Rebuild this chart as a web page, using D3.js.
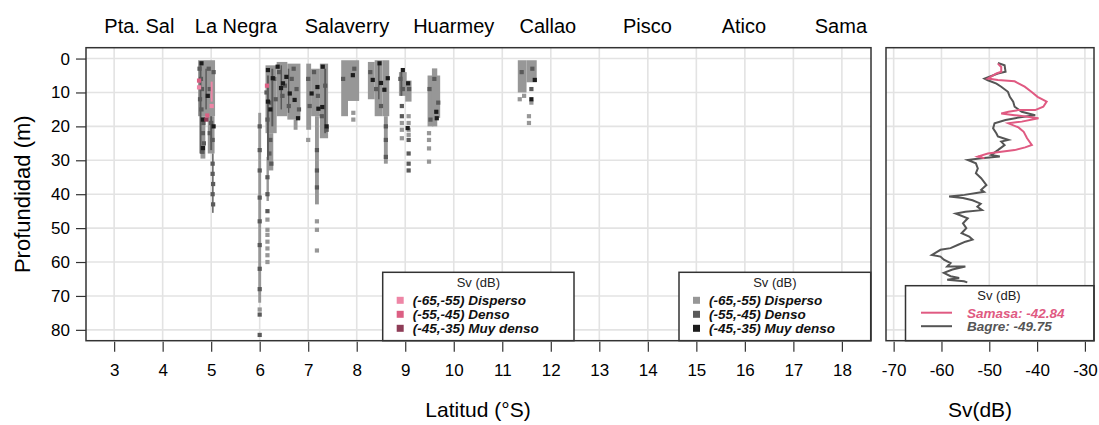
<!DOCTYPE html>
<html>
<head>
<meta charset="utf-8">
<script src="https://cdn.jsdelivr.net/npm/d3@7"></script>
<style>
  body { margin: 0; background: #fff; }
  svg { font-family: "Liberation Sans", Arial, sans-serif; }
</style>
</head>
<body>
<svg id="chart" width="1099" height="425"></svg>
<script>
const latTicks = [3, 4, 5, 6, 7, 8, 9, 10, 11, 12, 13, 14, 15, 16, 17, 18];
const profTicks = [0, 10, 20, 30, 40, 50, 60, 70, 80];
const svTicks = [-70, -60, -50, -40, -30];

const lugares = ['Pta. Sal', 'La Negra', 'Salaverry', 'Huarmey', 'Callao', 'Pisco', 'Atico', 'Sama'];
const latLugares = [3.52, 5.51, 7.8, 10.0, 11.94, 13.99, 15.98, 17.98];

const niveles = ['(-65,-55) Disperso', '(-55,-45) Denso', '(-45,-35) Muy denso'];
const coloresSamasa = ['#ee86a6', '#dc5f83', '#8e3d57'];
const coloresBagre = ['#979797', '#5a5a5a', '#1c1c1c'];

// bancos de bagre: [lat inicio, lat fin, prof inicio, prof fin]
const bancosDisperso = [
  [4.73, 5.08, 0.5, 17], [4.78, 4.88, 17, 29.5], [4.93, 5.07, 17, 28],
  [5.97, 6.03, 16, 72],
  [6.12, 6.35, 2, 22], [6.17, 6.28, 22, 33], [6.35, 6.57, 1, 17], [6.57, 6.84, 1.5, 18], [6.70, 6.78, 18, 21],
  [6.14, 6.19, 29, 42],
  [6.96, 7.06, 1.5, 21], [7.06, 7.24, 3, 17], [7.24, 7.41, 1.5, 23.5], [7.14, 7.22, 17, 43],
  [7.68, 7.82, 0.5, 17], [7.82, 8.05, 0.5, 12.5],
  [8.23, 8.37, 1, 12], [8.37, 8.53, 0.5, 17], [8.53, 8.67, 0.5, 17], [8.56, 8.64, 17, 31],
  [8.87, 9.03, 4, 11], [9.00, 9.13, 6.5, 12.7],
  [9.46, 9.58, 5, 20], [9.55, 9.66, 2.9, 20], [9.62, 9.72, 5, 17.5],
  [11.32, 11.50, 0.5, 10], [11.50, 11.71, 0.5, 7]
];
const bancosDenso = [
  [4.76, 4.80, 2, 28], [4.88, 4.91, 3, 15], [4.98, 5.02, 17, 27], [5.02, 5.05, 28, 45.5],
  [6.15, 6.19, 5, 30], [6.24, 6.28, 3, 20], [6.43, 6.46, 2, 15], [6.58, 6.61, 3, 16],
  [7.33, 7.37, 3, 22], [8.44, 8.47, 1, 12], [8.9, 8.94, 4, 11]
];
const puntosDisperso = [
  [6.0, 74], [6.16, 47.5], [6.16, 50.5], [6.16, 52], [6.16, 54], [6.16, 56], [6.16, 58], [6.16, 60],
  [7.0, 24], [7.18, 48], [7.18, 50.5], [7.18, 56.6], [7.93, 16], [7.93, 18],
  [8.93, 19], [8.93, 21], [8.93, 23.5], [9.07, 17], [9.07, 19], [9.07, 21], [9.07, 22.5],
  [9.49, 22], [9.49, 24], [9.49, 26.5], [9.49, 30.4],
  [11.36, 12], [11.45, 11], [11.6, 13], [11.55, 17], [11.55, 19]
];
const puntosDenso = [
  [4.76, 3], [4.79, 6], [4.81, 9], [4.77, 12], [4.8, 15], [4.84, 19], [4.83, 22], [4.85, 25], [4.82, 27.5],
  [4.95, 3], [4.97, 9], [5.05, 4], [5.0, 19], [4.97, 22], [5.03, 24], [5.03, 31], [5.03, 34], [5.04, 37], [5.03, 40], [5.04, 43],
  [6.0, 20], [6.0, 27], [6.0, 33], [6.0, 41], [6.0, 48], [6.0, 55], [6.0, 62], [6.0, 68], [6.0, 75.5], [6.0, 81.5],
  [6.14, 10], [6.2, 13], [6.16, 18], [6.22, 24], [6.2, 28], [6.24, 31], [6.3, 6], [6.33, 12], [6.4, 4], [6.47, 11],
  [6.52, 8], [6.6, 14], [6.66, 6], [6.7, 3], [6.76, 9], [6.81, 15], [6.16, 35], [6.16, 40], [6.16, 45],
  [7.0, 6], [7.03, 14], [7.12, 4], [7.2, 11], [7.28, 17], [7.35, 8], [7.38, 21], [7.18, 27], [7.18, 33], [7.18, 38],
  [7.72, 6], [7.95, 3],
  [8.28, 4], [8.4, 9], [8.5, 14], [8.6, 20], [8.6, 24], [8.6, 29],
  [8.9, 6], [8.95, 9], [9.08, 9], [8.93, 14], [8.93, 17], [9.07, 24], [9.07, 28], [9.07, 31], [9.07, 33],
  [9.5, 9], [9.6, 6], [9.68, 13], [9.52, 18],
  [11.4, 4], [11.62, 3], [11.6, 9]
];
const puntosMuyDenso = [
  [4.8, 1.4], [4.83, 18], [4.83, 26.4], [4.93, 11], [5.05, 20],
  [6.17, 3.4], [6.27, 5.8], [6.37, 2.4], [6.48, 7.3], [6.44, 8.7], [6.17, 12.7], [6.22, 15],
  [6.62, 10.3], [6.72, 12.2], [6.79, 17.6], [6.55, 5.4],
  [7.3, 2.4], [7.07, 10.3], [7.19, 8.4], [7.29, 14.3], [7.38, 20], [7.21, 14.8],
  [7.92, 4.9],
  [8.33, 6.3], [8.47, 1.4], [8.5, 7.2], [8.64, 5.8], [8.57, 9.2],
  [8.95, 3.4], [9.06, 7.3], [9.05, 20.5],
  [9.64, 15.7], [9.65, 17.6],
  [11.67, 6.3], [11.6, 12]
];

// samasa: [lat inicio, lat fin, prof inicio, prof fin] y puntos [lat, prof, nivel]
const bancosSamasa = [[4.99, 5.03, 6.8, 12.7]];
const puntosSamasa = [
  [4.75, 6.5, 1], [4.75, 8.5, 0], [4.92, 16.8, 1], [4.9, 18, 2], [6.15, 8, 1], [5.01, 14, 0]
];

// perfiles: [profundidad, Sv]
const perfilSamasa = [
  [1.5, -48.2], [2.5, -47.5], [3.9, -47.5], [4.4, -48.5], [5.9, -50.3], [6.3, -48.2], [6.7, -44.7],
  [8.3, -42.6], [9.8, -41.2], [11.3, -39.9], [12.7, -38.0], [14.2, -38.7], [15.2, -40.4], [15.2, -43.9],
  [15.7, -46.0], [16.2, -47.5], [16.7, -44.7], [17.6, -39.7], [18.6, -43.2], [19.1, -46.0], [20.3, -43.9],
  [21.6, -42.8], [23.5, -42.1], [25.5, -41.1], [26.2, -42.5], [27.0, -44.7], [27.5, -47.5], [28.0, -50.3],
  [28.9, -52.4], [29.4, -51.0]
];
const perfilBagre = [
  [1.3, -48.2], [2.0, -46.8], [3.9, -46.6], [4.4, -48.2], [5.9, -51.0], [6.4, -50.3], [7.4, -48.5],
  [8.3, -47.5], [9.8, -46.1], [11.3, -45.7], [12.7, -45.0], [14.2, -44.7], [15.7, -43.2], [16.7, -40.4],
  [17.4, -43.9], [18.1, -46.6], [19.1, -48.9], [20.6, -49.2], [22.1, -48.5], [23.0, -48.2], [24.0, -46.0],
  [24.5, -47.5], [25.5, -46.8], [27.0, -48.2], [28.4, -49.6], [28.9, -47.8], [29.4, -51.7], [29.9, -54.5],
  [30.9, -52.8], [32.4, -52.4], [33.8, -52.8], [35.3, -51.7], [37.3, -50.6], [38.7, -51.7], [39.3, -51.1],
  [40.2, -55.2], [40.7, -58.4], [41.1, -55.5], [41.8, -53.5], [42.8, -51.8], [43.7, -52.5], [44.7, -51.5],
  [45.2, -55.0], [45.7, -57.0], [47.1, -54.5], [48.6, -55.5], [50.0, -54.8], [51.5, -55.8], [52.5, -54.2],
  [53.4, -53.5], [54.0, -55.0], [54.9, -56.5], [55.9, -58.1], [56.4, -60.2], [57.9, -62.0], [58.4, -60.2],
  [59.3, -59.5], [60.3, -58.1], [61.3, -58.8], [61.3, -55.0], [62.2, -57.7], [63.2, -59.5], [64.2, -58.1],
  [64.7, -56.3], [65.2, -58.8], [65.7, -55.3], [66.0, -54.6]
];
const leyendaPerfiles = ['Samasa: -42.84', 'Bagre: -49.75'];
const coloresPerfiles = ['#e05a82', '#555555'];

const svg = d3.select('#chart');
const yTop = 47.7, yBottom = 340.7;
const frameColor = '#333';
const gridColor = '#e3e3e3';
const sq = 4.2;

const x = d3.scaleLinear().domain([2.42, 18.6]).range([86, 871]);
const y = d3.scaleLinear().domain([-3.2, 83.2]).range([yTop, yBottom]);
const xSv = d3.scaleLinear().domain([-71.6, -28.1]).range([886, 1094]);

const defs = svg.append('defs');
defs.append('clipPath').attr('id', 'clipMain')
  .append('rect').attr('x', x.range()[0]).attr('y', yTop)
  .attr('width', x.range()[1] - x.range()[0]).attr('height', yBottom - yTop);
defs.append('clipPath').attr('id', 'clipSv')
  .append('rect').attr('x', xSv.range()[0]).attr('y', yTop)
  .attr('width', xSv.range()[1] - xSv.range()[0]).attr('height', yBottom - yTop);

function grid(g, xs, xt) {
  g.selectAll('line.v').data(xt).join('line').attr('class', 'v')
    .attr('x1', d => xs(d)).attr('x2', d => xs(d)).attr('y1', yTop).attr('y2', yBottom)
    .attr('stroke', gridColor).attr('stroke-width', 1.6);
  g.selectAll('line.h').data(profTicks).join('line').attr('class', 'h')
    .attr('x1', xs.range()[0]).attr('x2', xs.range()[1]).attr('y1', d => y(d)).attr('y2', d => y(d))
    .attr('stroke', gridColor).attr('stroke-width', 1.6);
}

function bottomAxis(xs, xt) {
  const g = svg.append('g').attr('transform', `translate(0,${yBottom + 1})`)
    .call(d3.axisBottom(xs).tickValues(xt).tickSize(10).tickPadding(12).tickFormat(d => String(d)));
  g.select('.domain').remove();
  g.selectAll('.tick line').attr('stroke', frameColor).attr('stroke-width', 1.2);
  g.selectAll('.tick text').attr('font-size', 17).attr('fill', '#000')
    .attr('font-family', '"Liberation Sans", Arial, sans-serif');
}

function frame(xs) {
  svg.append('rect').attr('x', xs.range()[0]).attr('y', yTop)
    .attr('width', xs.range()[1] - xs.range()[0]).attr('height', yBottom - yTop)
    .attr('fill', 'none').attr('stroke', frameColor).attr('stroke-width', 1.5);
}

// panel principal
const gMain = svg.append('g');
gMain.append('g').call(grid, x, latTicks);

const gData = gMain.append('g').attr('clip-path', 'url(#clipMain)');
function bancos(data, color) {
  gData.append('g').selectAll('rect').data(data).join('rect')
    .attr('x', d => x(d[0])).attr('width', d => x(d[1]) - x(d[0]))
    .attr('y', d => y(d[2])).attr('height', d => y(d[3]) - y(d[2]))
    .attr('fill', color);
}
function puntos(data, color) {
  gData.append('g').selectAll('rect').data(data).join('rect')
    .attr('x', d => x(d[0]) - sq / 2).attr('y', d => y(d[1]) - sq / 2)
    .attr('width', sq).attr('height', sq).attr('fill', color);
}
bancos(bancosDisperso, coloresBagre[0]);
puntos(puntosDisperso, coloresBagre[0]);
bancos(bancosDenso, coloresBagre[1]);
puntos(puntosDenso, coloresBagre[1]);
puntos(puntosMuyDenso, coloresBagre[2]);
bancos(bancosSamasa, coloresSamasa[0]);
gData.append('g').selectAll('rect').data(puntosSamasa).join('rect')
  .attr('x', d => x(d[0]) - sq / 2).attr('y', d => y(d[1]) - sq / 2)
  .attr('width', sq).attr('height', sq).attr('fill', d => coloresSamasa[d[2]]);

// eje y
const gy = svg.append('g').attr('transform', `translate(${x.range()[0]},0)`)
  .call(d3.axisLeft(y).tickValues(profTicks).tickSize(10).tickPadding(6));
gy.select('.domain').remove();
gy.selectAll('.tick line').attr('stroke', frameColor).attr('stroke-width', 1.2);
gy.selectAll('.tick text').attr('font-size', 17).attr('fill', '#000')
  .attr('font-family', '"Liberation Sans", Arial, sans-serif');

bottomAxis(x, latTicks);

svg.append('g').selectAll('text').data(lugares).join('text')
  .attr('x', (d, i) => x(latLugares[i])).attr('y', 33)
  .attr('text-anchor', 'middle').attr('font-size', 20).text(d => d);

svg.append('text').attr('transform', `translate(30,${(yTop + yBottom) / 2}) rotate(-90)`)
  .attr('text-anchor', 'middle').attr('font-size', 22).text('Profundidad (m)');
svg.append('text').attr('x', 478).attr('y', 417).attr('text-anchor', 'middle')
  .attr('font-size', 21).text('Latitud (°S)');

function leyenda(x0, x1, y0, colores) {
  const g = svg.append('g');
  g.append('rect').attr('x', x0).attr('y', y0).attr('width', x1 - x0).attr('height', yBottom - y0)
    .attr('fill', '#fff').attr('stroke', frameColor).attr('stroke-width', 1.5);
  g.append('text').attr('x', (x0 + x1) / 2).attr('y', y0 + 14.5).attr('text-anchor', 'middle')
    .attr('font-size', 13).attr('fill', '#222').text('Sv (dB)');
  const rows = g.selectAll('g.row').data(niveles).join('g').attr('class', 'row')
    .attr('transform', (d, i) => `translate(${x0 + 14},${y0 + 28 + i * 14})`);
  rows.append('rect').attr('x', 0).attr('y', -3.5).attr('width', 7).attr('height', 7)
    .attr('fill', (d, i) => colores[i]);
  rows.append('text').attr('x', 16).attr('y', 5).attr('font-size', 13.5)
    .attr('font-weight', 'bold').attr('font-style', 'italic').attr('fill', '#111').text(d => d);
}
leyenda(382.7, 574, 272.3, coloresSamasa);
leyenda(679, 870.7, 272.3, coloresBagre);

frame(x);

// panel Sv
const gSv = svg.append('g');
gSv.append('g').call(grid, xSv, svTicks);
const line = d3.line().x(d => xSv(d[1])).y(d => y(d[0]));
const gLines = gSv.append('g').attr('clip-path', 'url(#clipSv)');
gLines.append('path').datum(perfilBagre).attr('d', line).attr('fill', 'none')
  .attr('stroke', coloresPerfiles[1]).attr('stroke-width', 2);
gLines.append('path').datum(perfilSamasa).attr('d', line).attr('fill', 'none')
  .attr('stroke', coloresPerfiles[0]).attr('stroke-width', 2);

bottomAxis(xSv, svTicks);
svg.append('text').attr('x', 980).attr('y', 417).attr('text-anchor', 'middle')
  .attr('font-size', 21).text('Sv(dB)');

const lg = svg.append('g');
lg.append('rect').attr('x', 905.5).attr('y', 285.7).attr('width', xSv.range()[1] - 905.5)
  .attr('height', yBottom - 285.7).attr('fill', '#fff').attr('stroke', frameColor).attr('stroke-width', 1.5);
lg.append('text').attr('x', 999).attr('y', 300).attr('text-anchor', 'middle')
  .attr('font-size', 13).attr('fill', '#222').text('Sv (dB)');
const lrows = lg.selectAll('g.row').data(leyendaPerfiles).join('g').attr('class', 'row')
  .attr('transform', (d, i) => `translate(921,${312.7 + i * 13.5})`);
lrows.append('line').attr('x1', 0).attr('x2', 31).attr('stroke', (d, i) => coloresPerfiles[i])
  .attr('stroke-width', 2);
lrows.append('text').attr('x', 46).attr('y', 5).attr('font-size', 13.5)
  .attr('font-weight', 'bold').attr('font-style', 'italic')
  .attr('fill', (d, i) => coloresPerfiles[i]).text(d => d);

frame(xSv);
</script>
</body>
</html>
